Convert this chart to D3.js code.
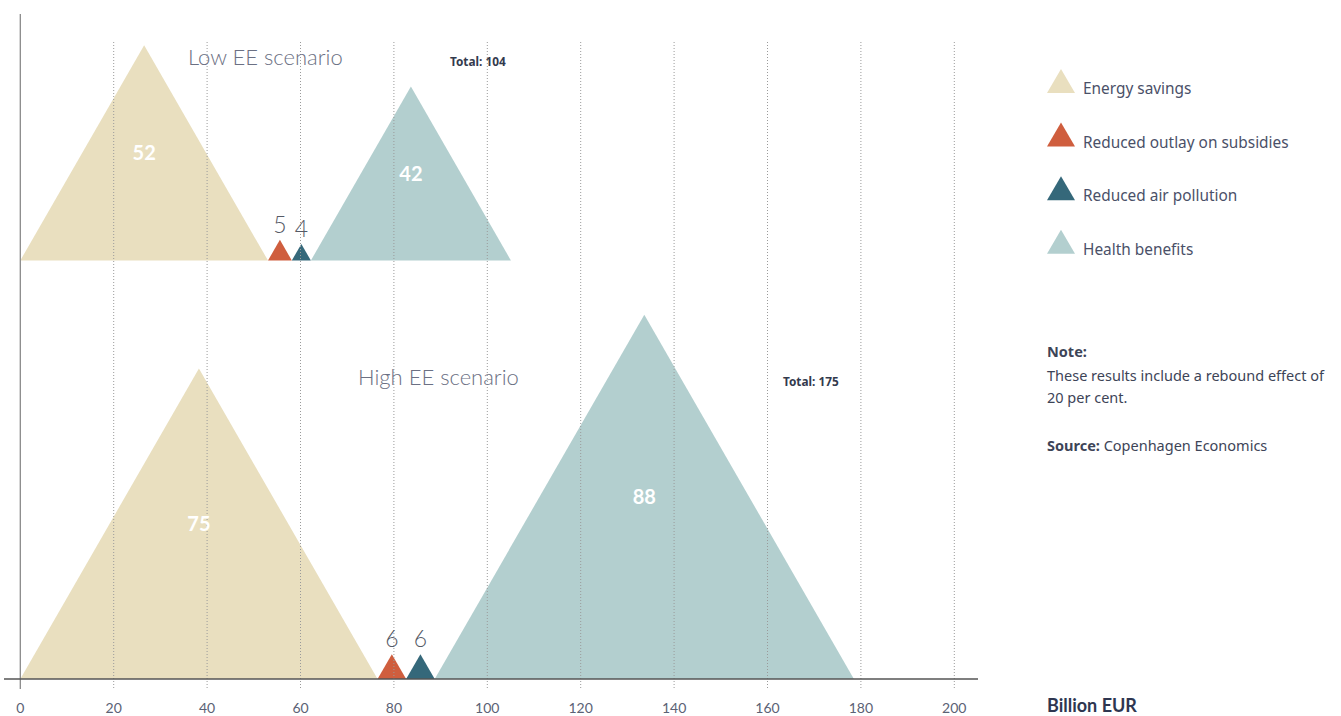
<!DOCTYPE html>
<html lang="en">
<head>
    <meta charset="utf-8">
    <title>Low vs High EE scenario</title>
    <script src="https://d3js.org/d3.v7.min.js"></script>
    <style>
        body { margin: 0; background: #ffffff; font-family: Lato, "Noto Sans", sans-serif; }
        .wide { font-family: "Noto Sans", Lato, sans-serif; }
    </style>
</head>
<body>
<div id="chart-container"></div>
<script>
    // Data
    const categories = ["Energy savings", "Reduced outlay on subsidies", "Reduced air pollution", "Health benefits"];
    const colors = ["#e9dfbf", "#cf5e3e", "#35687a", "#b3cfcf"];
    const scenarios = ["Low EE scenario", "High EE scenario"];
    const lowValues = [52, 5, 4, 42];
    const highValues = [75, 6, 6, 88];
    const totals = [104, 175];
    const xTicks = [0, 20, 40, 60, 80, 100, 120, 140, 160, 180, 200];

    const width = 1341, height = 716;
    const svg = d3.select("#chart-container")
        .append("svg")
        .attr("width", width)
        .attr("height", height);

    // Scales
    const xScale = d3.scaleLinear().domain([0, 200]).range([20.3, 954.3]);
    const unitPx = 4.14;      // vertical px per billion
    const widthFactor = 1.02; // base width of a triangle in axis units per billion

    // Grid lines (dotted)
    svg.append("g")
        .selectAll("line")
        .data(xTicks.filter(d => d > 0))
        .enter()
        .append("line")
        .attr("x1", d => xScale(d))
        .attr("x2", d => xScale(d))
        .attr("y1", 42)
        .attr("y2", 689)
        .attr("stroke", "#9a9a9a")
        .attr("stroke-width", 1)
        .attr("stroke-dasharray", "1,2");

    // Draw one scenario
    function drawScenario(values, baseY, idx) {
        const yScale = d3.scaleLinear().domain([0, 100]).range([baseY, baseY - 100 * unitPx]);
        let start = 0;
        const items = values.map((v, i) => {
            const w = v * widthFactor;
            const it = { value: v, cat: i, x0: start, x1: start + w, mid: start + w / 2 };
            start += w;
            return it;
        });

        const g = svg.insert("g", "g").attr("class", "scenario-" + idx);

        g.selectAll("path")
            .data(items)
            .enter()
            .append("path")
            .attr("d", d => `M${xScale(d.x0)},${yScale(0)}L${xScale(d.mid)},${yScale(d.value)}L${xScale(d.x1)},${yScale(0)}Z`)
            .attr("fill", d => colors[d.cat]);

        // big values inside triangles
        svg.selectAll(".big-" + idx)
            .data(items.filter(d => d.value > 10))
            .enter()
            .append("text")
            .attr("x", d => xScale(d.mid))
            .attr("y", d => yScale(d.value / 2))
            .attr("dy", "0.35em")
            .attr("text-anchor", "middle")
            .style("font-size", "20px")
            .style("font-weight", "bold")
            .style("fill", "#ffffff")
            .text(d => d.value);

        // small values above triangles
        svg.selectAll(".small-" + idx)
            .data(items.filter(d => d.value <= 10))
            .enter()
            .append("text")
            .attr("x", d => xScale(d.mid))
            .attr("y", d => yScale(d.value) - 7)
            .attr("text-anchor", "middle")
            .style("font-size", "23px")
            .style("font-weight", "300")
            .style("fill", "#555a66")
            .text(d => d.value);
    }

    drawScenario(lowValues, 260.5, 0);
    drawScenario(highValues, 679, 1);

    // Scenario titles and totals
    const titlePos = [[188, 65], [358, 385]];
    const totalPos = [[450, 66], [783, 386]];
    scenarios.forEach((s, i) => {
        svg.append("text")
            .attr("x", titlePos[i][0])
            .attr("y", titlePos[i][1])
            .style("font-size", "22px")
            .style("font-weight", "300")
            .style("fill", "#6b7083")
            .text(s);
        svg.append("text")
            .attr("class", "wide")
            .attr("x", totalPos[i][0])
            .attr("y", totalPos[i][1])
            .style("font-size", "11.8px")
            .style("font-weight", "bold")
            .style("fill", "#333a4d")
            .text("Total: " + totals[i]);
    });

    // Axes
    svg.append("line")
        .attr("x1", xScale(0))
        .attr("x2", xScale(0))
        .attr("y1", 14)
        .attr("y2", 689)
        .attr("stroke", "#8a8a8a")
        .attr("stroke-width", 1.3);

    svg.append("line")
        .attr("x1", 4)
        .attr("x2", 978)
        .attr("y1", 679)
        .attr("y2", 679)
        .attr("stroke", "#555555")
        .attr("stroke-width", 1.3);

    svg.append("g")
        .selectAll("text")
        .data(xTicks)
        .enter()
        .append("text")
        .attr("x", d => xScale(d))
        .attr("y", 713)
        .attr("text-anchor", "middle")
        .style("font-size", "14px")
        .style("fill", "#5b6275")
        .text(d => d);

    svg.append("text")
        .attr("x", 1047)
        .attr("y", 712)
        .style("font-size", "18px")
        .style("font-weight", "bold")
        .style("fill", "#2e3650")
        .text("Billion EUR");

    // Legend
    const legend = svg.append("g").attr("class", "wide").attr("transform", "translate(1047, 69)");
    categories.forEach((c, i) => {
        const ly = i * 53.6;
        legend.append("path")
            .attr("d", `M0,${ly + 24}L14,${ly}L28,${ly + 24}Z`)
            .attr("fill", colors[i]);
        legend.append("text")
            .attr("x", 36)
            .attr("y", ly + 25)
            .style("font-size", "15.4px")
            .style("fill", "#4a5068")
            .text(c);
    });

    // Note and source
    const note = svg.append("g").attr("class", "wide").style("font-size", "14.5px").style("fill", "#3d4457");
    note.append("text").attr("x", 1047).attr("y", 357).style("font-weight", "bold").text("Note:");
    note.append("text").attr("x", 1047).attr("y", 381).text("These results include a rebound effect of");
    note.append("text").attr("x", 1047).attr("y", 403).text("20 per cent.");
    const src = note.append("text").attr("x", 1047).attr("y", 451);
    src.append("tspan").style("font-weight", "bold").text("Source:");
    src.append("tspan").text(" Copenhagen Economics");
</script>
</body>
</html>
